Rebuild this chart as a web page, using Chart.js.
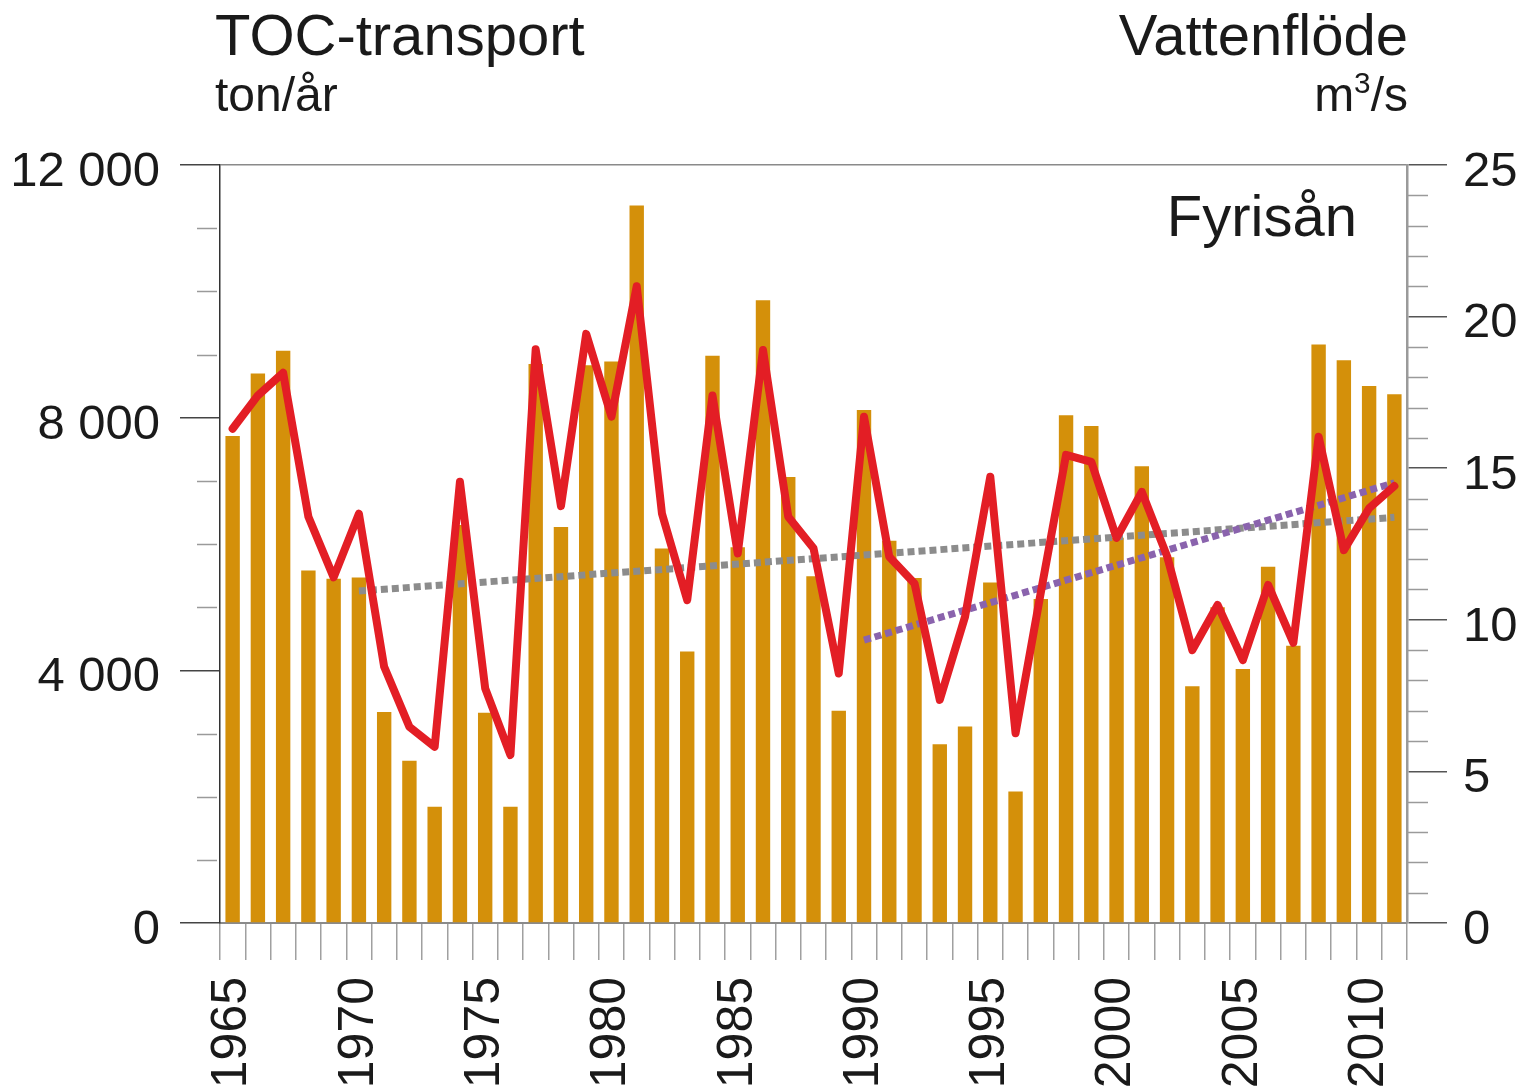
<!DOCTYPE html>
<html lang="sv">
<head>
<meta charset="utf-8">
<title>Fyrisån - TOC-transport och vattenflöde</title>
<script src="https://cdn.jsdelivr.net/npm/chart.js@4.4.1/dist/chart.umd.min.js"></script>
<style>
  body { margin: 0; background: #fff; }
  #wrap { position: relative; width: 1530px; height: 1090px; font-family: "Liberation Sans", Arial, sans-serif; color: #1a1a1a; }
  #wrap canvas { position: absolute; left: 0; top: 0; }
  .lbl { position: absolute; line-height: 1; white-space: nowrap; }
  .lbl sup { font-size: 0.62em; vertical-align: 0.62em; line-height: 0; }
</style>
</head>
<body>
<div id="wrap">
  <canvas id="myChart" width="1530" height="1090"></canvas>
  <div class="lbl" style="left:215px; top:6px; font-size:58px;">TOC-transport</div>
  <div class="lbl" style="left:215px; top:71px; font-size:48px;">ton/år</div>
  <div class="lbl" style="right:122px; top:6px; font-size:58px;">Vattenflöde</div>
  <div class="lbl" style="right:122px; top:71px; font-size:48px;">m<sup>3</sup>/s</div>
  <div class="lbl" style="right:173px; top:187px; font-size:58px;">Fyrisån</div>
</div>
<script>
'use strict'

let years = ['1965', '1966', '1967', '1968', '1969', '1970', '1971', '1972', '1973', '1974',
    '1975', '1976', '1977', '1978', '1979', '1980', '1981', '1982', '1983', '1984',
    '1985', '1986', '1987', '1988', '1989', '1990', '1991', '1992', '1993', '1994',
    '1995', '1996', '1997', '1998', '1999', '2000', '2001', '2002', '2003', '2004',
    '2005', '2006', '2007', '2008', '2009', '2010', '2011'];

// TOC-transport, ton/år (left axis)
let tocTransport = [7710, 8700, 9060, 5580, 5450, 5470, 3340, 2570, 1840, 6300,
    3330, 1840, 8850, 6270, 8830, 8890, 11360, 5930, 4300, 8980,
    5950, 9860, 7060, 5490, 3360, 8120, 6050, 5460, 2830, 3110,
    5390, 2080, 5130, 8040, 7870, 6100, 7230, 5790, 3750, 5000,
    4020, 5640, 4390, 9160, 8910, 8500, 8370];

// Vattenflöde, m3/s (right axis)
let waterFlow = [16.3, 17.4, 18.15, 13.4, 11.4, 13.5, 8.45, 6.47, 5.81, 14.55,
    7.74, 5.54, 18.92, 13.75, 19.43, 16.7, 21.0, 13.5, 10.65, 17.4,
    12.19, 18.9, 13.4, 12.36, 8.23, 16.7, 12.08, 11.2, 7.36, 10.1,
    14.72, 6.26, 10.9, 15.44, 15.21, 12.7, 14.22, 12.1, 9.0, 10.49,
    8.67, 11.15, 9.24, 16.04, 12.3, 13.68, 14.41];

// trend lines, end points only
let trendGreyYears = ['1970', '2011'];
let trendGreyValues = [10.95, 13.38];
let trendPurpleYears = ['1990', '2011'];
let trendPurpleValues = [9.33, 14.52];

let leftTicks = [0, 4000, 8000, 12000];
let rightTicks = [0, 5, 10, 15, 20, 25];

function toPoints(xs, ys) {
    return xs.map((x, i) => ({ x: x, y: ys[i] }));
}

function fmt(v) {
    return String(v).replace(/\B(?=(\d{3})+(?!\d))/g, ' ');
}

// short minor tick marks
const minorTicks = {
    id: 'minorTicks',
    afterDraw(chart) {
        let ctx = chart.ctx;
        let yl = chart.scales.y;
        let yr = chart.scales.y2;
        ctx.save();
        ctx.lineWidth = 1.5;
        ctx.strokeStyle = '#9a9a9a';
        yl.ticks.forEach(t => {
            if (leftTicks.indexOf(t.value) === -1) {
                let p = Math.round(yl.getPixelForValue(t.value)) + 0.5;
                ctx.beginPath();
                ctx.moveTo(yl.right - 23, p);
                ctx.lineTo(yl.right - 3, p);
                ctx.stroke();
            }
        });
        yr.ticks.forEach(t => {
            if (rightTicks.indexOf(t.value) === -1) {
                let p = Math.round(yr.getPixelForValue(t.value)) + 0.5;
                ctx.beginPath();
                ctx.moveTo(yr.left + 1, p);
                ctx.lineTo(yr.left + 21, p);
                ctx.stroke();
            }
        });
        ctx.restore();
    }
};

let ctx = document.getElementById('myChart').getContext('2d');
let myChart = new Chart(ctx, {
    type: 'bar',
    data: {
        labels: years,
        datasets: [{
            type: 'line',
            label: 'Vattenflöde',
            data: waterFlow,
            yAxisID: 'y2',
            borderColor: '#e31e25',
            borderWidth: 8,
            borderJoinStyle: 'round',
            borderCapStyle: 'round',
            pointRadius: 0,
            tension: 0,
            order: 0
        }, {
            type: 'line',
            label: 'Trend 1990-2011',
            data: toPoints(trendPurpleYears, trendPurpleValues),
            yAxisID: 'y2',
            borderColor: '#8a63ad',
            borderWidth: 7,
            borderDash: [7, 4],
            pointRadius: 0,
            spanGaps: true,
            order: 1
        }, {
            type: 'line',
            label: 'Trend 1970-2011',
            data: toPoints(trendGreyYears, trendGreyValues),
            yAxisID: 'y2',
            borderColor: '#8c8c8c',
            borderWidth: 7,
            borderDash: [7, 4],
            pointRadius: 0,
            spanGaps: true,
            order: 2
        }, {
            label: 'TOC-transport',
            data: tocTransport,
            yAxisID: 'y',
            backgroundColor: '#d4900a',
            barPercentage: 0.57,
            categoryPercentage: 1.0,
            order: 3
        }]
    },
    options: {
        responsive: false,
        animation: false,
        devicePixelRatio: 1,
        layout: { padding: { top: 165, left: 0, right: 0, bottom: 0 } },
        plugins: {
            legend: { display: false },
            tooltip: { enabled: false }
        },
        scales: {
            x: {
                offset: true,
                grid: {
                    offset: true,
                    drawOnChartArea: false,
                    tickLength: 37,
                    color: '#a0a0a0',
                    lineWidth: 1.5
                },
                border: { display: true, color: '#8a8a8a', width: 2 },
                ticks: {
                    autoSkip: false,
                    minRotation: 90,
                    maxRotation: 90,
                    padding: 17,
                    color: '#1a1a1a',
                    font: { family: 'Liberation Sans', size: 50 },
                    callback: function (val, i) {
                        let y = Number(years[i]);
                        return y % 5 === 0 ? years[i] : '';
                    }
                },
                afterFit: function (scale) { scale.height = 167; }
            },
            y: {
                position: 'left',
                min: 0,
                max: 12000,
                grid: {
                    tickLength: 40,
                    lineWidth: 1.5,
                    color: c => (c.tick && c.tick.value === 12000) ? '#8a8a8a' : 'rgba(0,0,0,0)',
                    tickColor: c => (c.tick && leftTicks.indexOf(c.tick.value) !== -1) ? '#444' : 'rgba(0,0,0,0)'
                },
                border: { display: true, color: '#333', width: 1.5 },
                ticks: {
                    stepSize: 1000,
                    maxTicksLimit: 40,
                    autoSkip: false,
                    padding: 20,
                    color: '#1a1a1a',
                    font: { family: 'Liberation Sans', size: 49, lineHeight: 0.3 },
                    // empty first line nudges the label a little below its tick, as in the original
                    callback: v => leftTicks.indexOf(v) !== -1 ? ['', fmt(v)] : ''
                },
                afterFit: function (scale) { scale.width = 220; }
            },
            y2: {
                position: 'right',
                min: 0,
                max: 25,
                grid: {
                    drawOnChartArea: false,
                    tickLength: 40,
                    lineWidth: 1.5,
                    tickColor: c => (c.tick && rightTicks.indexOf(c.tick.value) !== -1) ? '#555' : 'rgba(0,0,0,0)'
                },
                border: { display: true, color: '#9a9a9a', width: 2.5 },
                ticks: {
                    stepSize: 1,
                    maxTicksLimit: 40,
                    autoSkip: false,
                    padding: 16,
                    color: '#1a1a1a',
                    font: { family: 'Liberation Sans', size: 49, lineHeight: 0.3 },
                    callback: v => rightTicks.indexOf(v) !== -1 ? ['', String(v)] : ''
                },
                afterFit: function (scale) { scale.width = 123; }
            }
        }
    },
    plugins: [minorTicks]
});
</script>
</body>
</html>
